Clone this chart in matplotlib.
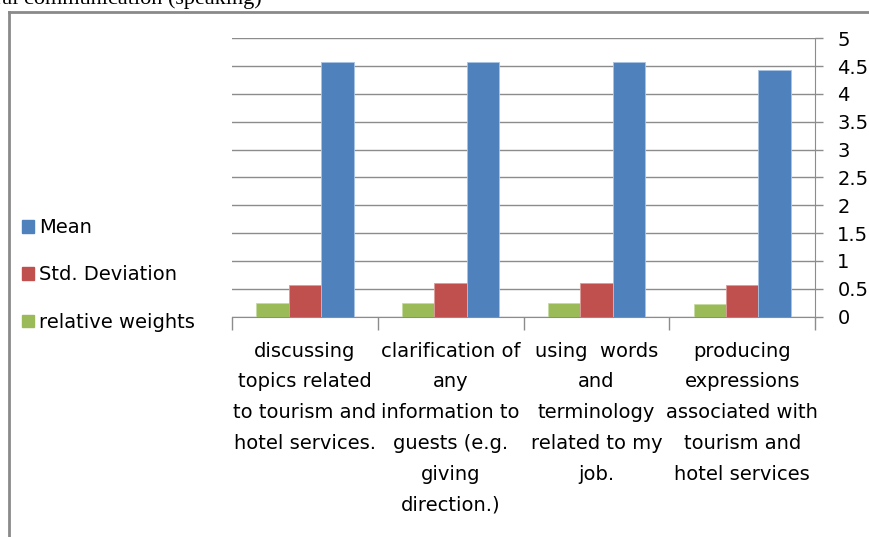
import numpy as np
import matplotlib
matplotlib.use("Agg")
import matplotlib.pyplot as plt
from matplotlib.patches import Patch

plt.rcParams['font.family'] = ['Liberation Sans Narrow', 'DejaVu Sans']

# survey items and their statistics
items = [
    "discussing\ntopics related\nto tourism and\nhotel services.",
    "clarification of\nany\ninformation to\nguests (e.g.\ngiving\ndirection.)",
    "using  words\nand\nterminology\nrelated to my\njob.",
    "producing\nexpressions\nassociated with\ntourism and\nhotel services",
]
mean = [4.57, 4.57, 4.57, 4.43]
std_dev = [0.56, 0.60, 0.60, 0.56]
rel_weights = [0.25, 0.25, 0.25, 0.23]
y_ticks = [0, 0.5, 1, 1.5, 2, 2.5, 3, 3.5, 4, 4.5, 5]
y_labels = ["0", "0.5", "1", "1.5", "2", "2.5", "3", "3.5", "4", "4.5", "5"]

c_blue, c_red, c_green = "#4F81BD", "#C0504D", "#9BBB59"
grid_c = "#8C8C8C"

fig = plt.figure(figsize=(8.69, 5.37), dpi=100)
ax = fig.add_axes([0.267, 0.4106, 0.671, 0.518])

x = np.arange(len(items))
w = 1 / 4.5
ax.bar(x - w, rel_weights, w, color=c_green, edgecolor="#c4dba0", linewidth=0.6, zorder=3)
ax.bar(x, std_dev, w, color=c_red, edgecolor="#dc9a98", linewidth=0.6, zorder=3)
ax.bar(x + w, mean, w, color=c_blue, edgecolor="#a9c3e3", linewidth=0.6, zorder=3)

ax.set_xlim(-0.5, len(items) - 0.5)
ax.set_ylim(0, 5)

# value axis on the right
ax.yaxis.tick_right()
ax.set_yticks(y_ticks)
ax.set_yticklabels(y_labels, fontsize=14)
ax.tick_params(axis='y', length=6, color=grid_c, width=1, pad=10)
ax.yaxis.grid(True, color=grid_c, linewidth=1, zorder=0)

# category axis: tick marks between groups, labels at group centres
ax.set_xticks(np.arange(len(items) + 1) - 0.5)
ax.set_xticklabels([])
ax.tick_params(axis='x', which='major', length=9, color=grid_c, width=1)
ax.set_xticks(x, minor=True)
ax.set_xticklabels(items, minor=True, fontsize=14, linespacing=1.79,
                   ha='center', va='top')
ax.tick_params(axis='x', which='minor', length=0, pad=18)

for side in ['top', 'left']:
    ax.spines[side].set_visible(False)
ax.spines['right'].set_color(grid_c)
ax.spines['bottom'].set_color(grid_c)

handles = [Patch(color=c_blue), Patch(color=c_red), Patch(color=c_green)]
fig.legend(handles, ["Mean", "Std. Deviation", "relative weights"],
           loc='center left', bbox_to_anchor=(0.005, 0.488), frameon=False,
           fontsize=14, handlelength=0.6, handleheight=0.6, handletextpad=0.3,
           labelspacing=1.45)

# chart frame
fig.add_artist(plt.Line2D([8.5 / 869, 8.5 / 869], [0, 1 - 12 / 537],
                          transform=fig.transFigure, color="#8a8a8a", lw=2))
fig.add_artist(plt.Line2D([8.5 / 869, 1], [1 - 12 / 537, 1 - 12 / 537],
                          transform=fig.transFigure, color="#8a8a8a", lw=2))

# heading above the chart, mostly outside the page
fig.text(262 / 869, 1 - 4 / 537, "Oral communication (speaking)",
         family='Liberation Serif', fontsize=16, ha='right', va='baseline')

fig.savefig("out.png", dpi=100)
